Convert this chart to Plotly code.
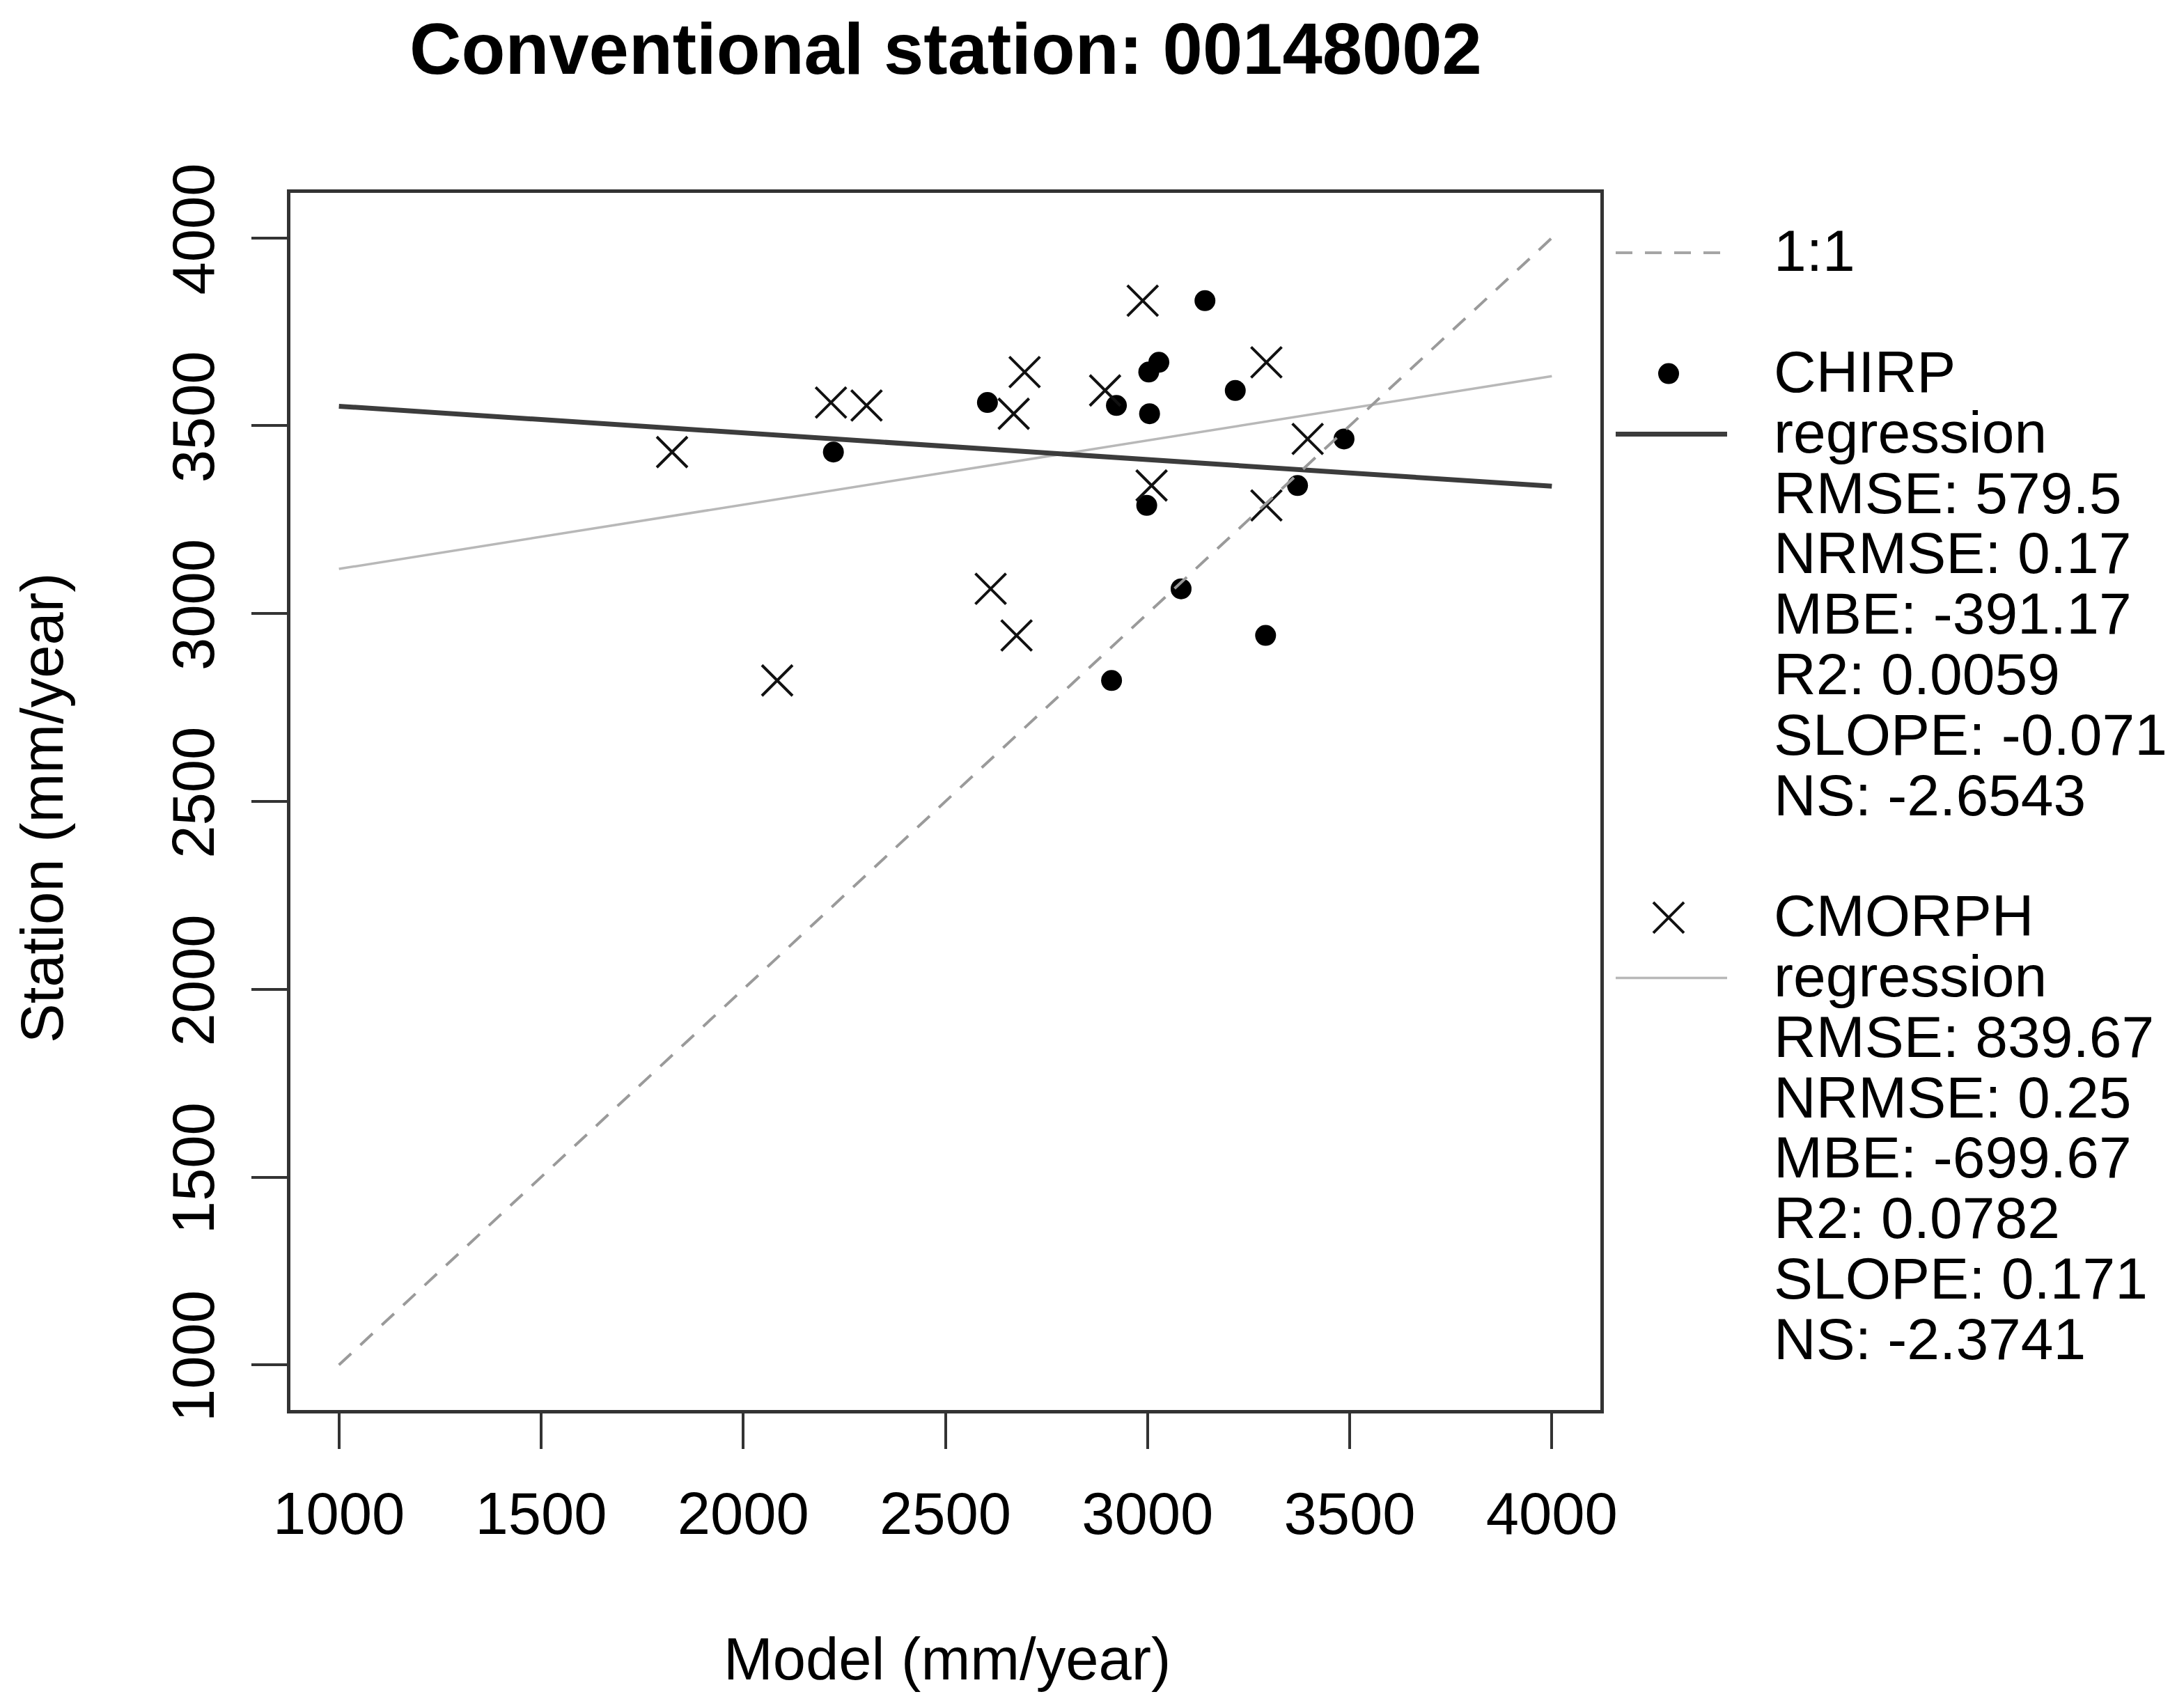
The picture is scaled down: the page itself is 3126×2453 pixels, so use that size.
import plotly.graph_objects as go

# ---------------- data ----------------
station = [3833, 3643, 3669, 3594, 3562, 3554, 3532, 3465, 3341, 3288, 3066, 2942, 2822, 3430]
chirp = [3142, 3003, 3028, 3217, 2604, 2923, 3005, 3486, 3371, 2998, 3083, 3292, 2911, 2223]
cmorph = [2988, 2696, 3294, 2895, 2217, 2305, 2669, 3396, 3010, 3294, 2612, 2676, 2084, 1824]

line_x = [1000, 4000]
one_to_one = [1000, 4000]
chirp_fit = [3623, -0.071]    # intercept, slope
cmorph_fit = [2948, 0.171]    # intercept, slope

tick_vals = [1000, 1500, 2000, 2500, 3000, 3500, 4000]
tick_text = ["1000", "1500", "2000", "2500", "3000", "3500", "4000"]

legend_labels = ["1:1", "", "CHIRP", "regression", "RMSE: 579.5", "NRMSE: 0.17",
                 "MBE: -391.17", "R2: 0.0059", "SLOPE: -0.071", "NS: -2.6543", "",
                 "CMORPH", "regression", "RMSE: 839.67", "NRMSE: 0.25", "MBE: -699.67",
                 "R2: 0.0782", "SLOPE: 0.171", "NS: -2.3741"]

title_text = "Conventional station: 00148002"
x_title = "Model (mm/year)"
y_title = "Station (mm/year)"

# ---------------- layout geometry (pixels) ----------------
W, H = 3126, 2453
L, RE, T, B = 417, 2298, 277, 2025
xdom_end = (RE - L) / (W - L)
FONT = "Liberation Sans, Arial, Helvetica, sans-serif"
FS = 85

row0_px, row_step = 363, 86.8
r_top = (T - row0_px) / row_step
r_bot = (B - row0_px) / row_step

chirp_line_y = [chirp_fit[0] + chirp_fit[1] * v for v in line_x]
cmorph_line_y = [cmorph_fit[0] + cmorph_fit[1] * v for v in line_x]

fig = go.Figure()

# points
fig.add_trace(go.Scatter(x=chirp, y=station, mode="markers",
                         marker=dict(symbol="circle", size=30, color="black"),
                         name="CHIRP"))
fig.add_trace(go.Scatter(x=cmorph, y=station, mode="markers",
                         marker=dict(symbol="x-thin", size=44,
                                     line=dict(width=4, color="#111111")),
                         name="CMORPH"))
# lines
fig.add_trace(go.Scatter(x=line_x, y=cmorph_line_y, mode="lines",
                         line=dict(color="#b8b8b8", width=3.5)))
fig.add_trace(go.Scatter(x=line_x, y=chirp_line_y, mode="lines",
                         line=dict(color="#3c3c3c", width=7)))
fig.add_trace(go.Scatter(x=one_to_one, y=one_to_one, mode="lines",
                         line=dict(color="#9a9a9a", width=4, dash="24px,18px")))

# legend samples on an overlay axis
sx0, sx1, sxc, tx = 2320, 2480, 2396, 2545
row_11 = legend_labels.index("1:1")
row_chirp = legend_labels.index("CHIRP")
row_cmorph = legend_labels.index("CMORPH")
fig.add_trace(go.Scatter(x=[sx0, sx1], y=[row_11, row_11], mode="lines", xaxis="x2", yaxis="y2",
                         line=dict(color="#a5a5a5", width=4, dash="24px,18px")))
fig.add_trace(go.Scatter(x=[sxc], y=[row_chirp], mode="markers", xaxis="x2", yaxis="y2",
                         marker=dict(symbol="circle", size=30, color="black")))
fig.add_trace(go.Scatter(x=[sx0, sx1], y=[row_chirp + 1, row_chirp + 1], mode="lines",
                         xaxis="x2", yaxis="y2", line=dict(color="#3c3c3c", width=7)))
fig.add_trace(go.Scatter(x=[sxc], y=[row_cmorph], mode="markers", xaxis="x2", yaxis="y2",
                         marker=dict(symbol="x-thin", size=44, line=dict(width=4, color="#111111"))))
fig.add_trace(go.Scatter(x=[sx0, sx1], y=[row_cmorph + 1, row_cmorph + 1], mode="lines",
                         xaxis="x2", yaxis="y2", line=dict(color="#b8b8b8", width=3.5)))

annotations = []
for i, lab in enumerate(legend_labels):
    if lab:
        annotations.append(dict(x=tx, y=i - 0.03, xref="x2", yref="y2", text=lab, showarrow=False,
                                xanchor="left", yanchor="middle",
                                font=dict(family=FONT, size=FS - 1, color="black")))
annotations.append(dict(x=(1360 - L) / (W - L), y=(B - 2382) / (B - T), xref="paper", yref="paper",
                        text=x_title, showarrow=False, xanchor="center", yanchor="middle",
                        font=dict(family=FONT, size=FS, color="black")))
annotations.append(dict(x=(60 - L) / (W - L), y=(B - 1160) / (B - T), xref="paper", yref="paper",
                        text=y_title, showarrow=False, textangle=-90, xanchor="center",
                        yanchor="middle", font=dict(family=FONT, size=FS, color="black")))

axis_common = dict(range=[880, 4120], tickvals=tick_vals, ticktext=tick_text,
                   ticks="outside", ticklen=51, tickwidth=4, tickcolor="#333333",
                   showline=True, linecolor="#333333", linewidth=4.5, mirror=True,
                   showgrid=False, zeroline=False, automargin=False,
                   tickfont=dict(family=FONT, size=FS, color="black"))

fig.update_layout(
    template="none",
    width=W, height=H,
    margin=dict(l=L, r=0, t=T, b=H - B, pad=0, autoexpand=False),
    paper_bgcolor="white", plot_bgcolor="white",
    showlegend=False,
    title=dict(text="<b>" + title_text + "</b>", xref="container", yref="container",
               x=1358 / W, y=1 - 70 / H, xanchor="center", yanchor="middle",
               automargin=False,
               font=dict(family=FONT, size=103, color="black")),
    xaxis=dict(domain=[0, xdom_end], ticklabelstandoff=20, **axis_common),
    yaxis=dict(domain=[0, 1], tickangle=-90, ticklabelstandoff=20, **axis_common),
    xaxis2=dict(domain=[xdom_end, 1], range=[RE, W], anchor="y2", visible=False,
                fixedrange=True, automargin=False),
    yaxis2=dict(domain=[0, 1], range=[r_bot, r_top], anchor="x2", visible=False,
                fixedrange=True, automargin=False),
    annotations=annotations,
)

fig.write_html("out.html", config={"displayModeBar": False},
               post_script="document.body.style.margin='0';")
